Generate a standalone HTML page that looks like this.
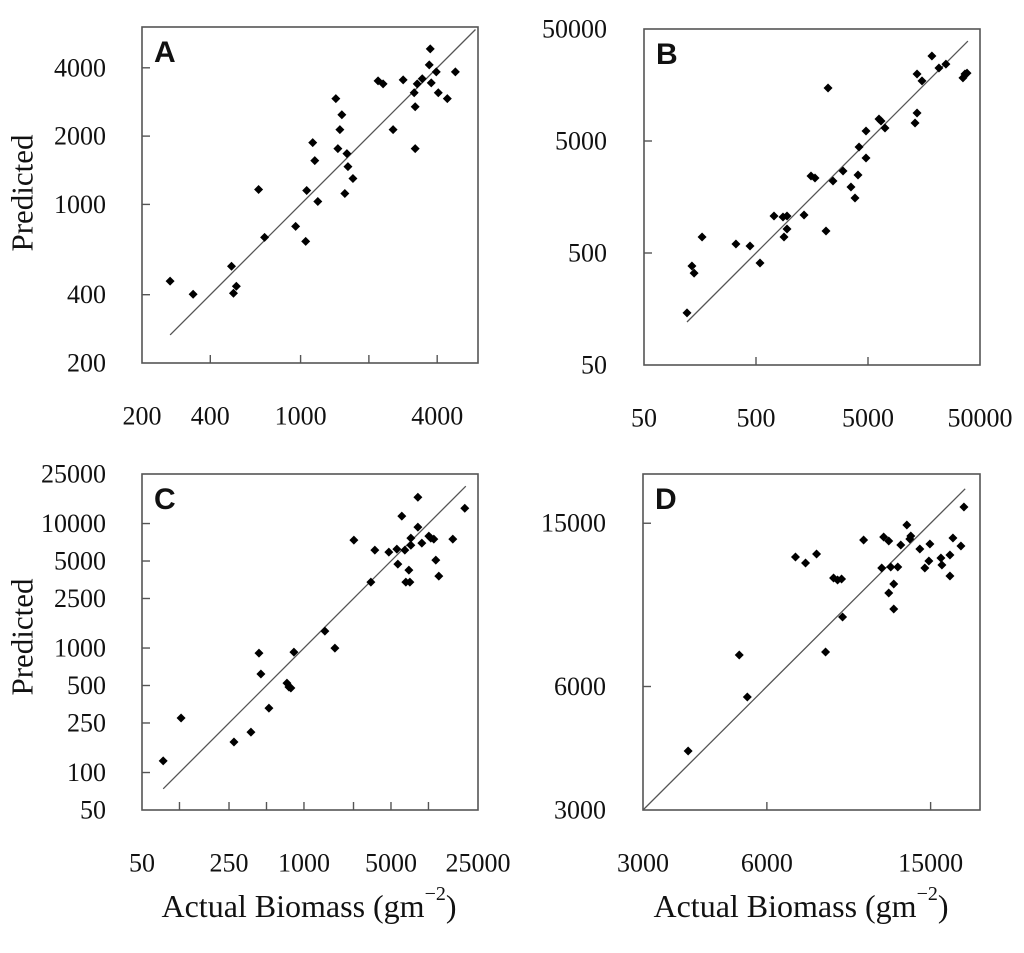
<!DOCTYPE html>
<html><head><meta charset="utf-8">
<style>
html,body{margin:0;padding:0;background:#fff;}
svg{display:block;}
text{font-family:"Liberation Serif",serif;fill:#111;}
.lt{font-family:"Liberation Sans",sans-serif;font-weight:bold;}
</style></head>
<body>
<svg id="fig" width="1024" height="953" viewBox="0 0 1024 953" xmlns="http://www.w3.org/2000/svg">
<text x="22" y="193" font-size="31" text-anchor="middle" dominant-baseline="central" transform="rotate(-90 22 193)">Predicted</text>
<text x="22" y="637" font-size="31" text-anchor="middle" dominant-baseline="central" transform="rotate(-90 22 637)">Predicted</text>
<text x="309" y="906" font-size="32" text-anchor="middle" dominant-baseline="central">Actual Biomass (gm<tspan font-size="20" dy="-12">−2</tspan><tspan dy="12">)</tspan></text>
<text x="801" y="906" font-size="32" text-anchor="middle" dominant-baseline="central">Actual Biomass (gm<tspan font-size="20" dy="-12">−2</tspan><tspan dy="12">)</tspan></text>
</svg>
<script>
// Panel A data
const aActual = [266,336,496,506,521,653,694,951,1053,1064,1131,1155,1191,1430,1460,1490,1520,1567,1600,1617,1701,2195,2310,2557,2832,3167,3200,3200,3266,3437,3690,3728,3766,3964,4045,4433,4811];
const aPredicted = [459,402,534,406,436,1164,716,800,687,1152,1872,1560,1030,2925,1762,2135,2485,1117,1675,1468,1301,3505,3400,2135,3541,3104,2694,1762,3400,3578,4121,4847,3435,3840,3104,2925,3840];
const aTicks = [400,1000,2000,4000];
const aYLabels = [200,400,1000,2000,4000];
const aXLabels = [200,400,1000,4000];
const aLine = [266,5900];
// Panel B data
const bActual = [121,134,140,165,331,442,543,724,871,889,946,946,1342,1549,1682,2108,2198,2435,2992,3524,3828,4072,4158,4800,4800,6267,6530,7090,13150,13700,13700,15170,18600,21500,24800,35200,36700,38300];
const bPredicted = [146,383,331,695,601,577,407,1069,1047,695,1069,818,1092,2435,2337,785,14860,2198,2700,1941,1549,2485,4418,3524,6138,7850,7550,6530,7240,8890,19800,17200,28700,22400,24300,18300,19800,20200];
const bTicks = [500,5000];
const bYLabels = [50,500,5000,50000];
const bXLabels = [50,500,5000,50000];
const bLine = [121,39000];
// Panel C data
const cActual = [74,103,274,375,435,451,523,730,757,785,830,1472,1772,2517,3447,3710,4806,5572,5677,6110,6460,6580,6960,7090,7220,7220,8220,8220,8850,10070,10450,11040,11460,12110,15690,19580];
const cPredicted = [124,274,176,211,911,618,329,523,486,477,927,1367,999,7350,3382,6110,5890,6226,4718,11460,6110,3382,4222,3382,6700,7630,16280,9350,6960,7920,7630,7490,5080,3780,7490,13280];
const cTicks = [100,250,500,1000,2500,5000,10000];
const cYLabels = [50,100,250,500,1000,2500,5000,10000,25000];
const cXLabels = [50,250,1000,5000,25000];
const cLine = [74,19950];
// Panel D data
const dActual = [3862,5141,5378,7041,7449,7923,8333,8715,8912,9114,9165,10310,11409,11535,11868,11868,12000,12204,12204,12483,12693,13131,13353,13428,14124,14523,14856,14940,15891,15978,16713,16713,16995,17775,18075];
const dPredicted = [4178,7160,5657,12414,12000,12620,7281,11033,10908,10968,8864,13653,11670,13890,10140,13575,11735,10668,9270,11735,13276,14856,13731,13968,12978,11670,12135,13353,12339,11868,12552,11154,13806,13203,16431];
const dTicks = [6000,15000];
const dYLabels = [3000,6000,15000];
const dXLabels = [3000,6000,15000];
const dLine = [3000,18200];

const NS = "http://www.w3.org/2000/svg";
const svg = document.getElementById('fig');
function mk(tag, attrs, parent){
  const e = document.createElementNS(NS, tag);
  for (const k in attrs) e.setAttribute(k, attrs[k]);
  (parent||svg).appendChild(e);
  return e;
}
function panel(p){
  const g = mk('g', {});
  
  
  const sx = v => p.x0 + (Math.log(v) - Math.log(p.min)) / (Math.log(p.max) - Math.log(p.min)) * (p.x1 - p.x0);
  const sy = v => p.y1 - (Math.log(v) - Math.log(p.min)) / (Math.log(p.max) - Math.log(p.min)) * (p.y1 - p.y0);
  const box = mk('rect', {x:p.x0, y:p.y0, width:p.x1-p.x0, height:p.y1-p.y0, fill:'none', stroke:'#555', 'stroke-width':1.6}, g);
  
  
  p.ticks.forEach(t => {
    const tx = mk('line', {x1:sx(t), x2:sx(t), y1:p.y1, y2:p.y1-8, stroke:'#555', 'stroke-width':1.4}, g);
    
    
    const ty = mk('line', {x1:p.x0, x2:p.x0+8, y1:sy(t), y2:sy(t), stroke:'#555', 'stroke-width':1.4}, g);
    
    
  });
  p.yLabels.forEach(t => {
    const e = mk('text', {x:p.ylx, y:sy(t), 'font-size':26, 'text-anchor':'end', 'dominant-baseline':'central'}, g);
    e.textContent = t;
    
    
  });
  p.xLabels.forEach(t => {
    const e = mk('text', {x:sx(t), y:p.xly, 'font-size':26, 'text-anchor':'middle', 'dominant-baseline':'central'}, g);
    e.textContent = t;
    
    
  });
  const ln = mk('line', {x1:sx(p.line[0]), y1:sy(p.line[0]), x2:sx(p.line[1]), y2:sy(p.line[1]), stroke:'#555', 'stroke-width':1.3}, g);
  
  
  p.xs.forEach((v, i) => {
    const cx = sx(v), cy = sy(p.ys[i]), r = 4.5;
    const d = mk('polygon', {points:`${cx},${cy-r} ${cx+r},${cy} ${cx},${cy+r} ${cx-r},${cy}`, fill:'#000'}, g);
    
    
  });
  const lt = mk('text', {x:p.x0+12, y:p.y0+35, 'font-size':30, class:'lt'}, g);
  lt.textContent = p.letter;
  
  
}
panel({letter:'A', x0:142, x1:478, y0:27, y1:363, min:200, max:200*Math.pow(2,336/68.3), ticks:aTicks, yLabels:aYLabels, xLabels:aXLabels, xs:aActual, ys:aPredicted, line:aLine, ylx:106, xly:416});
panel({letter:'B', x0:644, x1:980, y0:29, y1:365, min:50, max:50000, ticks:bTicks, yLabels:bYLabels, xLabels:bXLabels, xs:bActual, ys:bPredicted, line:bLine, ylx:607, xly:418});
panel({letter:'C', x0:142, x1:478, y0:474, y1:810, min:50, max:25000, ticks:cTicks, yLabels:cYLabels, xLabels:cXLabels, xs:cActual, ys:cPredicted, line:cLine, ylx:106, xly:863});
panel({letter:'D', x0:643, x1:980, y0:474, y1:810, min:3000, max:3000*Math.pow(2,336/123.5), ticks:dTicks, yLabels:dYLabels, xLabels:dXLabels, xs:dActual, ys:dPredicted, line:dLine, ylx:606, xly:863});
</script>
</body></html>
